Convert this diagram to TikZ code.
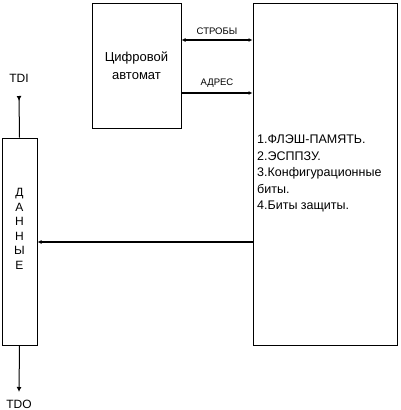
\documentclass[tikz,border=0pt]{standalone}
\usepackage{fontspec}
\setmainfont{Liberation Sans}
\usetikzlibrary{arrows.meta}

\begin{document}
\begin{tikzpicture}[x=1pt, y=-1pt, font=\fontsize{11}{15}\selectfont]
    \tikzset{
        blockbox/.style={draw, line width=1pt, inner sep=0pt},
        busline/.style={line width=1.8pt, -{Latex[length=4pt,width=4pt]}},
        pinline/.style={line width=1pt}
    }
    \useasboundingbox (0,0) rectangle (400,410);

    % Blocks
    \node[blockbox, minimum width=35, minimum height=207] (data) at (19.5,241.5) {};
    \node[align=center, font=\fontsize{12}{14.5}\selectfont] (datalabel) at (19.5,229) {Д\\А\\Н\\Н\\Ы\\Е};
    \node[blockbox, minimum width=89, minimum height=125, align=center,
          font=\fontsize{13}{18.5}\selectfont] (fsm) at (136.5,65.5) {Цифровой\\автомат};
    \node[blockbox, minimum width=144, minimum height=342] (mem) at (325,174) {};
    \node[anchor=north west, align=left, inner sep=0pt, font=\fontsize{12.5}{16.5}\selectfont] (memlabel) at (257,135)
        {1.ФЛЭШ-ПАМЯТЬ.\\2.ЭСППЗУ.\\3.Конфигурационные\\биты.\\4.Биты защиты.};

    % Pins
    \node[font=\fontsize{12}{14}\selectfont] (tdi) at (19,78) {TDI};
    \node[font=\fontsize{12}{14}\selectfont] (tdo) at (19,404) {TDO};
    \coordinate (tdiend) at (19,96);
    \coordinate (tdoend) at (19,392);
    \draw[pinline, {Latex[reversed,length=5pt,width=5pt]}-] (tdiend) -- (data.north);
    \draw[pinline, -{Latex[length=5pt,width=5pt]}] (data.south) -- (tdoend);

    % Buses
    \coordinate (strob) at (0,40);
    \coordinate (addr) at (0,93);
    \coordinate (dout) at (0,242);
    \draw[busline, {Latex[length=4pt,width=4pt]}-{Latex[length=4pt,width=4pt]}] (fsm.east |- strob) -- (mem.west |- strob)
        node[midway, above=1pt, font=\fontsize{9.5}{10}\selectfont] {СТРОБЫ};
    \draw[busline] (fsm.east |- addr) -- (mem.west |- addr)
        node[midway, above=1pt, font=\fontsize{9.5}{10}\selectfont] {АДРЕС};
    \draw[busline] (mem.west |- dout) -- (data.east |- dout);
\end{tikzpicture}
\end{document}
